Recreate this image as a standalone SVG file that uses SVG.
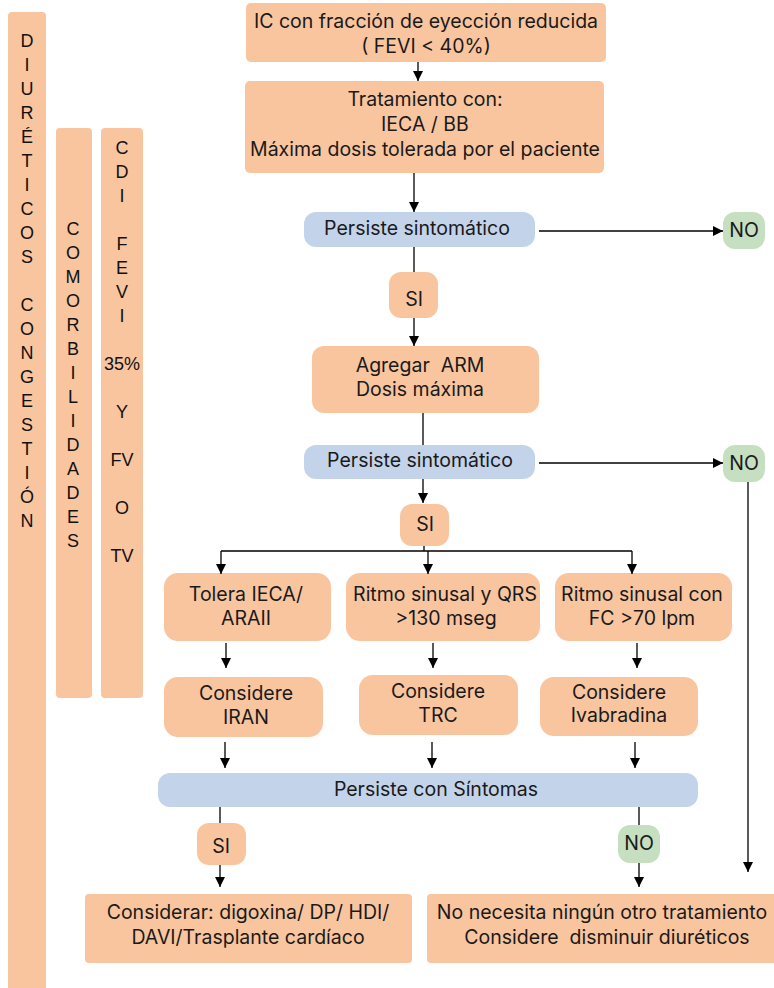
<svg xmlns="http://www.w3.org/2000/svg" width="774" height="988" viewBox="0 0 774 988">
<defs>
<style>
.p{fill:#F9C59F}
.b{fill:#C3D3EA}
.g{fill:#C6DFC0}
.t{font-family:Inter,"Liberation Sans",sans-serif;font-size:19.5px;fill:#1a1a1a;text-anchor:middle;white-space:pre}
.v{font-family:"Liberation Sans",Arial,sans-serif;font-size:18px;fill:#111;text-anchor:middle}
.c{stroke:#000;stroke-width:1.3;fill:none}
.a{marker-end:url(#ah)}
</style>
<marker id="ah" markerUnits="userSpaceOnUse" markerWidth="10" markerHeight="12" viewBox="0 0 10 12" refX="10" refY="6" orient="auto">
<path d="M0,1 L10,6 L0,11 Z" fill="#000"/>
</marker>
</defs>
<rect width="774" height="988" fill="#fff"/>

<g id="bar-diureticos">
<rect class="p" x="8" y="12" width="38" height="990" rx="4"/>
<text class="v"><tspan x="27" y="46.5">D</tspan><tspan x="27" dy="24">I</tspan><tspan x="27" dy="24">U</tspan><tspan x="27" dy="24">R</tspan><tspan x="27" dy="24">É</tspan><tspan x="27" dy="24">T</tspan><tspan x="27" dy="24">I</tspan><tspan x="27" dy="24">C</tspan><tspan x="27" dy="24">O</tspan><tspan x="27" dy="24">S</tspan><tspan x="27" dy="48">C</tspan><tspan x="27" dy="24">O</tspan><tspan x="27" dy="24">N</tspan><tspan x="27" dy="24">G</tspan><tspan x="27" dy="24">E</tspan><tspan x="27" dy="24">S</tspan><tspan x="27" dy="24">T</tspan><tspan x="27" dy="24">I</tspan><tspan x="27" dy="24">Ó</tspan><tspan x="27" dy="24">N</tspan></text>
</g>

<g id="bar-comorbilidades">
<rect class="p" x="56" y="128" width="36" height="570" rx="4"/>
<text class="v"><tspan x="73" y="234.5">C</tspan><tspan x="73" dy="24">O</tspan><tspan x="73" dy="24">M</tspan><tspan x="73" dy="24">O</tspan><tspan x="73" dy="24">R</tspan><tspan x="73" dy="24">B</tspan><tspan x="73" dy="24">I</tspan><tspan x="73" dy="24">L</tspan><tspan x="73" dy="24">I</tspan><tspan x="73" dy="24">D</tspan><tspan x="73" dy="24">A</tspan><tspan x="73" dy="24">D</tspan><tspan x="73" dy="24">E</tspan><tspan x="73" dy="24">S</tspan></text>
</g>

<g id="bar-cdi">
<rect class="p" x="101" y="128" width="42" height="570" rx="4"/>
<text class="v"><tspan x="122" y="153.5">C</tspan><tspan x="122" dy="24">D</tspan><tspan x="122" dy="24">I</tspan><tspan x="122" dy="48">F</tspan><tspan x="122" dy="24">E</tspan><tspan x="122" dy="24">V</tspan><tspan x="122" dy="24">I</tspan><tspan x="122" dy="48">35%</tspan><tspan x="122" dy="48">Y</tspan><tspan x="122" dy="48">FV</tspan><tspan x="122" dy="48">O</tspan><tspan x="122" dy="48">TV</tspan></text>
</g>

<g id="n-ic">
<rect class="p" x="246" y="3" width="360" height="59" rx="5"/>
<text class="t"><tspan x="426" y="28">IC con fracción de eyección reducida</tspan><tspan x="426" y="53">( FEVI &lt; 40%)</tspan></text>
</g>

<g id="n-tratamiento">
<rect class="p" x="245" y="81" width="359" height="92" rx="5"/>
<text class="t"><tspan x="425" y="106">Tratamiento con:</tspan><tspan x="425" y="131">IECA / BB</tspan><tspan x="425" y="156">Máxima dosis tolerada por el paciente</tspan></text>
</g>

<g id="n-persiste1">
<rect class="b" x="304" y="212" width="231" height="35" rx="12"/>
<text class="t" x="417" y="235">Persiste sintomático</text>
</g>

<g id="n-no1">
<rect class="g" x="723" y="212" width="42" height="37" rx="12"/>
<text class="t" x="744" y="237">NO</text>
</g>

<g id="n-si1">
<rect class="p" x="389" y="272" width="49" height="46" rx="12"/>
<text class="t" x="414" y="306">SI</text>
</g>

<g id="n-agregar">
<rect class="p" x="312" y="346" width="227" height="67" rx="12"/>
<text class="t" xml:space="preserve"><tspan x="420" y="372">Agregar  ARM</tspan><tspan x="420" y="396">Dosis máxima</tspan></text>
</g>

<g id="n-persiste2">
<rect class="b" x="304" y="445" width="231" height="34" rx="12"/>
<text class="t" x="420" y="467">Persiste sintomático</text>
</g>

<g id="n-no2">
<rect class="g" x="723" y="445" width="42" height="37" rx="12"/>
<text class="t" x="744" y="470">NO</text>
</g>

<g id="n-si2">
<rect class="p" x="400" y="504" width="49" height="42" rx="12"/>
<text class="t" x="425" y="531">SI</text>
</g>

<g id="n-tolera">
<rect class="p" x="164" y="573" width="167" height="68" rx="14"/>
<text class="t"><tspan x="246" y="601">Tolera IECA/</tspan><tspan x="246" y="625">ARAII</tspan></text>
</g>

<g id="n-ritmo-qrs">
<rect class="p" x="346" y="573" width="194" height="68" rx="14"/>
<text class="t"><tspan x="445" y="601">Ritmo sinusal y QRS</tspan><tspan x="446" y="625">&gt;130 mseg</tspan></text>
</g>

<g id="n-ritmo-fc">
<rect class="p" x="555" y="573" width="177" height="68" rx="14"/>
<text class="t"><tspan x="642" y="601">Ritmo sinusal con</tspan><tspan x="642" y="625">FC &gt;70 lpm</tspan></text>
</g>

<g id="n-iran">
<rect class="p" x="164" y="677" width="159" height="60" rx="14"/>
<text class="t"><tspan x="246" y="700">Considere</tspan><tspan x="246" y="724">IRAN</tspan></text>
</g>

<g id="n-trc">
<rect class="p" x="359" y="675" width="159" height="60" rx="14"/>
<text class="t"><tspan x="438" y="698">Considere</tspan><tspan x="438" y="722">TRC</tspan></text>
</g>

<g id="n-ivabradina">
<rect class="p" x="540" y="677" width="158" height="59" rx="14"/>
<text class="t"><tspan x="619" y="699">Considere</tspan><tspan x="619" y="722">Ivabradina</tspan></text>
</g>

<g id="n-persiste3">
<rect class="b" x="158" y="773" width="540" height="34" rx="12"/>
<text class="t" x="436" y="796">Persiste con Síntomas</text>
</g>

<g id="n-si3">
<rect class="p" x="197" y="823" width="49" height="42" rx="12"/>
<text class="t" x="221" y="853">SI</text>
</g>

<g id="n-no3">
<rect class="g" x="618" y="825" width="42" height="38" rx="12"/>
<text class="t" x="639" y="850">NO</text>
</g>

<g id="n-considerar">
<rect class="p" x="85" y="894" width="327" height="69" rx="4"/>
<text class="t"><tspan x="248" y="919">Considerar: digoxina/ DP/ HDI/</tspan><tspan x="248" y="944">DAVI/Trasplante cardíaco</tspan></text>
</g>

<g id="n-no-necesita">
<rect class="p" x="427" y="894" width="352" height="69" rx="4"/>
<text class="t" xml:space="preserve"><tspan x="602" y="919">No necesita ningún otro tratamiento</tspan><tspan x="607" y="944">Considere  disminuir diuréticos</tspan></text>
</g>

<g id="connectors">
<path class="c a" d="M418,62 V81"/>
<path class="c a" d="M414,173 V212"/>
<path class="c" d="M414,247 V272"/>
<path class="c a" d="M414,318 V346"/>
<path class="c a" d="M539,231 H723"/>
<path class="c" d="M423,413 V445"/>
<path class="c a" d="M539,463 H723"/>
<path class="c a" d="M423,479 V503"/>
<path class="c a" d="M748,482 V872"/>
<path class="c" d="M424,546 V551 M221,551 H632"/>
<path class="c a" d="M221,551 V574"/>
<path class="c a" d="M428,551 V574"/>
<path class="c a" d="M632,551 V574"/>
<path class="c a" d="M226,643 V668"/>
<path class="c a" d="M433,643 V668"/>
<path class="c a" d="M637,643 V668"/>
<path class="c a" d="M225,742 V768"/>
<path class="c a" d="M432,742 V768"/>
<path class="c a" d="M635,742 V768"/>
<path class="c" d="M220,807 V823"/>
<path class="c a" d="M220,865 V887"/>
<path class="c" d="M639,807 V825"/>
<path class="c a" d="M639,863 V887"/>
</g>
</svg>
